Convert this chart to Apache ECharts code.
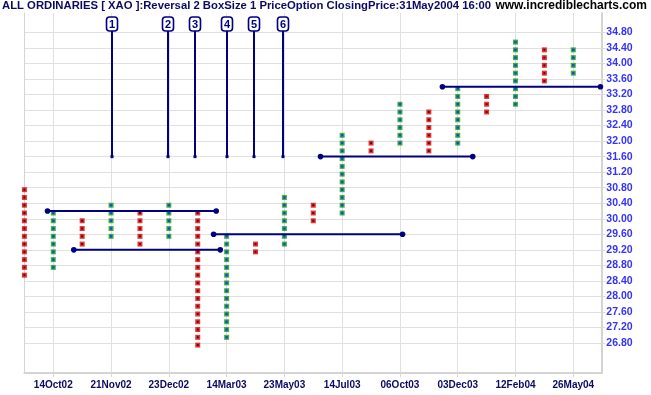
<!DOCTYPE html>
<html><head><meta charset="utf-8">
<script src="https://cdn.jsdelivr.net/npm/echarts@6/dist/echarts.min.js"></script>
<style>html,body{margin:0;padding:0;background:#fff}#c{width:651px;height:395px}</style>
</head><body><div id="c"></div>
<script>
// Point & Figure columns (box size 0.2)
const colTypes  = ['X','O','X','O','X','O','X','O','X','O','X','O','X','O','X','O','X','O','X','O'];
const colTop    = [30.8,30.2,30.0,30.4,30.2,30.4,30.2,29.6,29.4,30.6,30.4,32.2,32.0,33.0,32.8,33.4,33.2,34.6,34.4,34.4];
const colBottom = [28.6,28.8,29.4,29.6,29.4,29.6,26.8,27.0,29.2,29.4,30.0,30.2,31.8,32.0,31.8,32.0,32.8,33.0,33.6,33.8];
const boxSize = 0.2;

const dateLabels = ['14Oct02','21Nov02','23Dec02','14Mar03','23May03','14Jul03','06Oct03','03Dec03','12Feb04','26May04'];
const dateCols   = [1,3,5,7,9,11,13,15,17,19];
const priceTicks = [26.8,27.2,27.6,28.0,28.4,28.8,29.2,29.6,30.0,30.4,30.8,31.2,31.6,32.0,32.4,32.8,33.2,33.6,34.0,34.4,34.8];

// horizontal trend lines
const segStart = [0.80,1.71,6.55,10.25,14.47];
const segEnd   = [6.64,6.78,13.09,15.52,19.94];
const segLevel = [30.2,29.2,29.6,31.6,33.4];

// numbered event markers
const eventCols   = [3.03,4.97,5.92,7.0,7.95,8.96];
const eventLabels = ['1','2','3','4','5','6'];
const eventLevel  = 31.6;

const titleText = 'ALL ORDINARIES [ XAO ]:Reversal 2 BoxSize 1 PriceOption ClosingPrice:31May2004 16:00';
const siteText = 'www.incrediblecharts.com';

const xPts = [], oPts = [];
colTypes.forEach((t, c) => {
  const n = Math.round((colTop[c] - colBottom[c]) / boxSize);
  for (let k = 0; k <= n; k++) {
    const v = +(colBottom[c] + k * boxSize).toFixed(2);
    (t === 'X' ? xPts : oPts).push([c, v]);
  }
});

const NAVY = '#000080';
const FONT = 'Liberation Sans, Arial, sans-serif';
const chart = echarts.init(document.getElementById('c'), null, {renderer: 'canvas'});
chart.setOption({
  animation: false,
  backgroundColor: '#ffffff',
  title: [
    {text: titleText, left: 2, top: 0, padding: 0,
     textStyle: {color: '#0a0a66', fontSize: 11.3, fontWeight: 'bold', fontFamily: FONT}},
    {text: siteText, right: 4, top: 0, padding: 0,
     textStyle: {color: '#000000', fontSize: 12, fontWeight: 'bold', fontFamily: FONT}}
  ],
  grid: {left: 24.4, right: 49.7, top: 13, bottom: 22, containLabel: false},
  xAxis: {
    type: 'value', min: 0, max: 19.97,
    axisLine: {show: true, onZero: false, lineStyle: {color: '#d4d4d4', width: 2}},
    axisTick: {show: true, customValues: dateCols, length: 4, lineStyle: {color: '#d8d8d8'}},
    axisLabel: {customValues: dateCols, formatter: v => dateLabels[dateCols.indexOf(Math.round(v))] || '',
      color: '#0a0a66', fontWeight: 'bold', fontSize: 10, fontFamily: FONT, margin: 7},
    splitLine: {show: true, lineStyle: {color: '#e0e0e0', width: 1}}
  },
  yAxis: [{
    type: 'value', position: 'right', min: 26.03, max: 35.297,
    axisLine: {show: true, onZero: false, lineStyle: {color: '#d4d4d4', width: 2}},
    axisTick: {show: true, customValues: priceTicks, length: 4, lineStyle: {color: '#d8d8d8'}},
    axisLabel: {customValues: priceTicks, formatter: v => v.toFixed(2),
      color: '#3333ff', fontWeight: 'bold', fontSize: 10.5, fontFamily: FONT, margin: 5},
    splitLine: {show: true, lineStyle: {color: '#e0e0e0', width: 1}}
  }, {
    type: 'value', position: 'left', min: 26.03, max: 35.297,
    axisLine: {show: true, onZero: false, lineStyle: {color: '#d4d4d4', width: 1}},
    axisTick: {show: false}, axisLabel: {show: false}, splitLine: {show: false}
  }],
  series: [
    {type: 'scatter', data: xPts, symbol: 'rect', symbolSize: 5, symbolOffset: [0, 2],
     itemStyle: {color: '#e00000'}, silent: true, z: 3},
    {type: 'scatter', data: xPts, symbol: 'rect', symbolSize: 2, symbolOffset: [0, 2],
     itemStyle: {color: '#300000'}, silent: true, z: 4},
    {type: 'scatter', data: oPts, symbol: 'rect', symbolSize: 5, symbolOffset: [0, 2],
     itemStyle: {color: '#10a010'}, silent: true, z: 3},
    {type: 'scatter', data: oPts, symbol: 'rect', symbolSize: 2.5, symbolOffset: [0, 2],
     itemStyle: {color: '#1030ff'}, silent: true, z: 4},
    {type: 'custom', silent: true, z: 5, clip: false,
     data: segLevel.map((v, i) => [segStart[i], segEnd[i], v]),
     renderItem: (params, api) => {
       const p1 = api.coord([api.value(0), api.value(2)]);
       const p2 = api.coord([api.value(1), api.value(2)]);
       return {type: 'group', children: [
         {type: 'line', shape: {x1: p1[0], y1: p1[1], x2: p2[0], y2: p2[1]}, style: {stroke: NAVY, lineWidth: 2}},
         {type: 'circle', shape: {cx: p1[0], cy: p1[1], r: 2.8}, style: {fill: NAVY}},
         {type: 'circle', shape: {cx: p2[0], cy: p2[1], r: 2.8}, style: {fill: NAVY}}
       ]};
     }},
    {type: 'custom', silent: true, z: 6, clip: false,
     data: eventCols.map((c, i) => [c, eventLevel, i]),
     renderItem: (params, api) => {
       const p = api.coord([api.value(0), api.value(1)]);
       const x = Math.round(p[0]);
       const lbl = eventLabels[api.value(2)];
       return {type: 'group', children: [
         {type: 'line', shape: {x1: x, y1: 30, x2: x, y2: p[1]}, style: {stroke: NAVY, lineWidth: 2}},
         {type: 'rect', shape: {x: x - 1.5, y: p[1] - 1.5, width: 3, height: 3}, style: {fill: NAVY}},
         {type: 'rect', shape: {x: x - 5.5, y: 17, width: 11, height: 14, r: 3}, style: {fill: '#ffffff', stroke: NAVY, lineWidth: 1.6}},
         {type: 'text', style: {text: lbl, x: x, y: 24.5, align: 'center', verticalAlign: 'middle',
           font: 'bold 11px ' + FONT, fill: NAVY}}
       ]};
     }}
  ]
});
</script></body></html>
